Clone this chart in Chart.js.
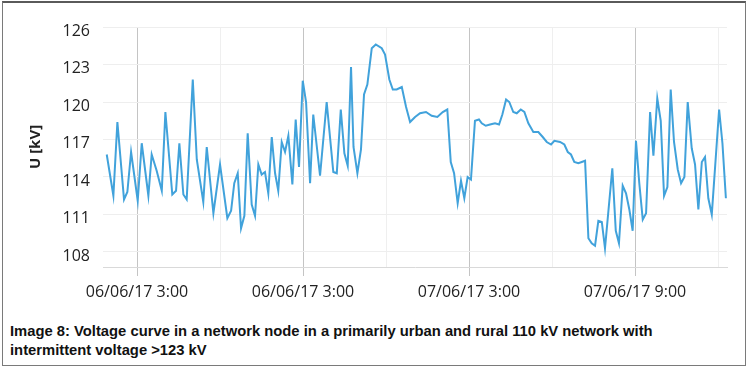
<!DOCTYPE html>
<html>
<head>
<meta charset="utf-8">
<script src="https://cdn.jsdelivr.net/npm/chart.js@4"></script>
<style>
    body { margin: 0; background: #ffffff; }
    #frame {
        position: absolute; left: 2px; top: 1px; width: 742px; height: 362px;
        border: 1px solid #7a7a7a; border-top: 2px solid #5a5a5a;
    }
    #wrap { position: absolute; left: 0; top: 0; width: 748px; height: 310px; }
    #caption {
        position: absolute; left: 10px; top: 321px; width: 730px;
        font-family: "Liberation Sans", Arial, sans-serif;
        font-weight: bold; font-size: 15px; line-height: 19px; color: #111;
        transform: scaleX(0.985); transform-origin: left top;
    }
</style>
</head>
<body>
<div id="frame"></div>
<div id="wrap"><canvas id="voltage-curve"></canvas></div>
<div id="caption">Image 8: Voltage curve in a network node in a primarily urban and rural 110 kV network with<br>intermittent voltage &gt;123 kV</div>
<script>
// time in hours from the first labelled grid line
var hours = [
    -2.19, -1.71, -1.42, -0.94, -0.70, -0.43, 0.05, 0.34, 0.82, 1.06,
    1.42, 1.79, 2.05, 2.55, 2.82, 3.06, 3.35, 3.59, 4.03, 4.32,
    4.79, 5.04, 5.52, 6.00, 6.53, 6.80, 7.03, 7.28, 7.52, 7.76,
    8.00, 8.29, 8.53, 8.77, 9.01, 9.25, 9.49, 9.74, 9.98, 10.21,
    10.46, 10.70, 10.94, 11.23, 11.47, 11.71, 11.98, 12.22, 12.51, 12.74,
    13.23, 13.71, 14.19, 14.44, 14.73, 14.99, 15.23, 15.47, 15.65, 15.93,
    16.19, 16.41, 16.65, 16.97, 17.26, 17.69, 17.93, 18.24, 18.49, 18.77,
    19.14, 19.45, 19.74, 20.10, 20.46, 20.89, 21.30, 21.71, 22.10, 22.43,
    22.68, 22.92, 23.18, 23.42, 23.66, 23.90, 24.14, 24.43, 24.72, 24.92,
    25.21, 25.52, 25.88, 26.17, 26.41, 26.68, 26.91, 27.20, 27.45, 27.74,
    28.00, 28.29, 28.65, 29.01, 29.33, 29.62, 29.93, 30.17, 30.58, 30.89,
    31.14, 31.37, 31.61, 31.90, 32.15, 32.39, 32.63, 32.87, 33.11, 33.35,
    33.60, 33.83, 34.36, 34.61, 34.84, 35.11, 35.35, 35.59, 35.83, 36.07,
    36.31, 36.56, 36.80, 37.09, 37.33, 37.61, 37.86, 38.10, 38.34, 38.58,
    38.82, 39.09, 39.33, 39.57, 39.81, 40.10, 40.34, 40.58, 40.83, 41.06,
    41.30, 41.55, 42.08, 42.32, 42.57
];
var voltage = [
    115.8, 112.5, 118.4, 112.2, 112.8, 116.0, 112.1, 116.7, 112.5, 115.8,
    114.5, 112.9, 119.2, 112.6, 112.9, 116.7, 112.6, 112.2, 121.8, 115.4,
    112.0, 116.4, 111.1, 115.0, 110.7, 111.3, 113.5, 114.3, 109.9, 110.9,
    117.5, 111.8, 110.9, 115.0, 114.2, 114.4, 112.7, 117.2, 114.3, 112.9,
    116.8, 116.0, 117.3, 113.4, 118.6, 114.8, 121.7, 120.0, 113.5, 119.0,
    114.1, 120.0, 114.4, 114.3, 119.4, 115.9, 114.9, 122.8, 116.4, 114.3,
    116.2, 120.6, 121.4, 124.3, 124.6, 124.3, 123.8, 121.8, 121.0, 121.0,
    121.2, 119.6, 118.4, 118.8, 119.1, 119.2, 118.9, 118.8, 119.2, 119.4,
    115.2, 114.3, 111.9, 113.7, 112.3, 114.0, 113.8, 118.5, 118.6, 118.3,
    118.1, 118.2, 118.3, 118.2, 119.0, 120.2, 120.0, 119.2, 119.1, 119.4,
    119.2, 118.3, 117.6, 117.6, 117.2, 116.8, 116.6, 116.9, 116.8, 116.6,
    116.0, 115.8, 115.2, 115.1, 115.2, 115.3, 109.1, 108.7, 108.5, 110.5,
    110.4, 108.3, 114.7, 109.7, 108.7, 113.3, 112.7, 111.4, 109.7, 116.9,
    113.5, 110.6, 111.1, 119.2, 115.7, 120.3, 118.5, 112.5, 113.2, 121.0,
    116.8, 114.6, 113.5, 114.0, 120.0, 116.3, 115.0, 111.4, 115.2, 115.6,
    112.3, 111.0, 119.4, 116.7, 112.3
];

var xTicks = [0, 6, 12, 18, 24, 30, 36, 42];
var xTickLabels = ['06/06/17 3:00', '', '06/06/17 3:00', '', '07/06/17 3:00', '', '07/06/17 9:00', ''];
var yTicks = [108, 111, 114, 117, 120, 123, 126];

document.addEventListener('DOMContentLoaded', function() {
    const canvas = document.getElementById('voltage-curve');
    canvas.width = 748;
    canvas.height = 310;

    var points = hours.map(function(h, i) { return {x: h, y: voltage[i]}; });

    function isMajor(value) {
        var idx = xTicks.indexOf(value);
        return idx >= 0 && xTickLabels[idx] !== '';
    }

    new Chart(canvas, {
        type: 'line',
        data: {
            datasets: [{
                label: 'U [kV]',
                data: points,
                borderColor: '#41a2db',
                borderWidth: 2,
                pointRadius: 0,
                tension: 0,
                fill: false
            }]
        },
        options: {
            responsive: false,
            animation: false,
            layout: { padding: { left: 27, right: 21, top: 27, bottom: 3 } },
            plugins: {
                legend: { display: false },
                tooltip: { enabled: false }
            },
            scales: {
                x: {
                    type: 'linear',
                    min: -2.46,
                    max: 42.65,
                    afterBuildTicks: function(scale) {
                        scale.ticks = xTicks.map(function(v) { return {value: v}; });
                    },
                    afterFit: function(scale) { scale.height = 40; },
                    grid: {
                        color: function(ctx) { return isMajor(ctx.tick.value) ? '#c4c4c4' : '#efefef'; },
                        tickColor: function(ctx) { return isMajor(ctx.tick.value) ? '#c4c4c4' : 'rgba(0,0,0,0)'; },
                        tickLength: 9,
                        lineWidth: 1
                    },
                    border: { color: '#d9d9d9' },
                    ticks: {
                        autoSkip: false,
                        maxRotation: 0,
                        padding: 7,
                        color: '#222',
                        font: { family: '"Open Sans"', size: 16 },
                        callback: function(value) {
                            var idx = xTicks.indexOf(value);
                            return idx >= 0 ? xTickLabels[idx] : '';
                        }
                    }
                },
                y: {
                    min: 106.8,
                    max: 126,
                    afterBuildTicks: function(scale) {
                        scale.ticks = yTicks.map(function(v) { return {value: v}; });
                    },
                    afterFit: function(scale) { scale.width = 76; },
                    grid: { color: '#eeeeee', drawTicks: false },
                    border: { display: false },
                    title: {
                        display: true,
                        text: 'U [kV]',
                        color: '#222',
                        font: { family: '"Open Sans"', size: 15, weight: 'bold' },
                        padding: { top: 0, bottom: 0 }
                    },
                    ticks: {
                        padding: 13,
                        labelOffset: 4,
                        color: '#222',
                        font: { family: '"Open Sans"', size: 16 }
                    }
                }
            }
        }
    });
});
</script>
</body>
</html>
